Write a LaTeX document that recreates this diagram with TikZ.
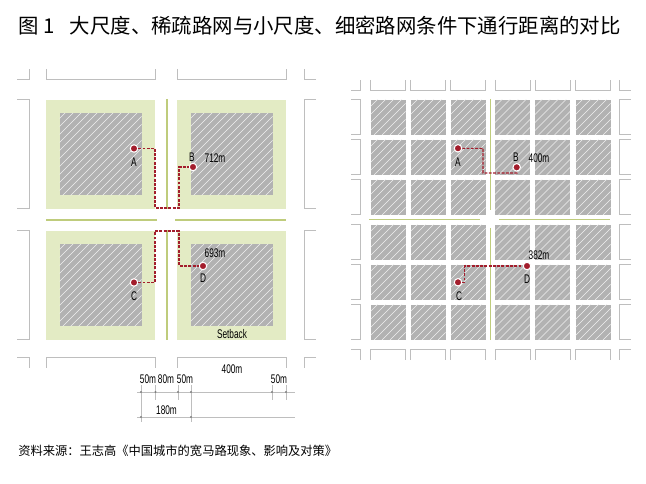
\documentclass[tikz,border=0pt]{standalone}
\usepackage{fontspec}
\setmainfont{Liberation Sans}
\newfontfamily\cjk{Noto Sans CJK SC}
\usepackage{xcolor}
\definecolor{cSetback}{HTML}{E3EBC4}
\definecolor{cPlot}{HTML}{B2B2B2}
\definecolor{cRoad}{HTML}{BFCC7C}
\definecolor{cRoute}{HTML}{A31D2C}
\definecolor{cEdge}{HTML}{BEBEBE}

\begin{document}
\begin{tikzpicture}[x=0.75pt, y=-0.75pt,
  setback/.style={fill=cSetback, minimum size=81.75pt, inner sep=0pt},
  plot/.style={fill=cPlot, minimum size=61.5pt, inner sep=0pt,
    path picture={\foreach \i in {-126,-118,...,42} {
      \draw[white!80!cPlot, line width=0.4pt]
        ([xshift=\i*0.75pt]path picture bounding box.south) --
        ([xshift=\i*0.75pt+66pt, yshift=66pt]path picture bounding box.south);
    }}},
  small/.style={plot, minimum size=26.25pt},
  edge/.style={draw=cEdge, line width=0.75pt},
  road/.style={draw=cRoad, line width=0.9pt},
  route/.style={draw=cRoute, line width=0.8pt, dash pattern=on 2.2pt off 1pt},
  spot/.style={circle, fill=cRoute, draw=white, line width=0.8pt, minimum size=5.6pt, inner sep=0pt},
  tag/.style={font=\fontsize{9.4}{11}\selectfont, xscale=0.66, inner sep=0pt},
  dim/.style={draw=cEdge, line width=0.6pt},
  tick/.style={circle, fill=gray, minimum size=1.8pt, inner sep=0pt}]
  \useasboundingbox (0,0) rectangle (646,484);

  % title and source
  \node[anchor=west, inner sep=0pt, font=\cjk\fontsize{15.3}{18}\selectfont] (title) at (18,26)
     {图 1\hspace{0.75em}大尺度、稀疏路网与小尺度、细密路网条件下通行距离的对比};
  \node[anchor=west, inner sep=0pt, font=\cjk\fontsize{9.2}{11}\selectfont] (source) at (18,451)
     {资料来源\char"FF1A 王志高《中国城市的宽马路现象、影响及对策》};

  % left plan: setbacks with plots
  \node[setback] (sa) at (100.5,154.5) {};
  \node[setback] (sb) at (231.5,154.5) {};
  \node[setback] (sc) at (100.5,285.5) {};
  \node[setback] (sd) at (231.5,285.5) {};
  \node[plot] (pa) at (sa) {};
  \node[plot] (pb) at (sb) {};
  \node[plot] (pc) at (sc) {};
  \node[plot] (pd) at (sd) {};

  % left plan: neighbouring blocks
  \foreach \xa/\xb in {46/155,177/286} {
    \draw[edge] (\xa,69) |- (\xb,80) -- (\xb,69);
    \draw[edge] (\xa,368) |- (\xb,358) -- (\xb,368);
  }
  \foreach \ya/\yb in {100/209,231/340} {
    \draw[edge] (17,\ya) -| (29,\yb) -- (17,\yb);
    \draw[edge] (316,\ya) -| (304.5,\yb) -- (316,\yb);
  }
  \draw[edge] (17,80) -| (29,69);
  \draw[edge] (316,80) -| (304.5,69);
  \draw[edge] (17,358) -| (29,368);
  \draw[edge] (316,358) -| (304.5,368);

  % left plan: road centre lines
  \draw[road] (167,99) -- (167,209);
  \draw[road] (167,230) -- (167,340);
  \draw[road] (46,220) -- (157,220);
  \draw[road] (175,220) -- (286,220);

  % left plan: routes
  \node[spot] (a) at (134,148.5) {};
  \node[spot] (b) at (193,167) {};
  \node[spot] (c) at (134,282.5) {};
  \node[spot] (d) at (203,266) {};
  \coordinate (ab1) at (155,208);
  \coordinate (ab2) at (179,208);
  \coordinate (cd1) at (155,231);
  \coordinate (cd2) at (179,231);
  \draw[route] (a) -| (ab1) -- (ab2) |- (b);
  \draw[route] (c) -| (cd1) -- (cd2) |- (d);

  \node[tag] (la) at (134,162) {A};
  \node[tag] (lb) at (192,157) {B};
  \node[tag] (lc) at (134,296) {C};
  \node[tag] (ld) at (203,278) {D};
  \node[tag] (len1) at (215,158) {712m};
  \node[tag] (len2) at (215,253) {693m};
  \node[tag] (set) at (232,334) {Setback};

  % left plan: dimensions
  \coordinate (d1) at (137,392);
  \coordinate (d2) at (295,392);
  \coordinate (d3) at (137,417);
  \coordinate (d4) at (295,417);
  \draw[dim] (d1) -- (d2);
  \draw[dim] (d3) -- (d4);
  \foreach \x in {155.5,178,272,286} {
    \draw[dim] (\x,385) -- (\x,400);
    \node[tick] at (\x,392) {};
  }
  \foreach \x in {141,191} {
    \draw[dim] (\x,385) -- (\x,422);
    \node[tick] at (\x,392) {};
    \node[tick] at (\x,417) {};
  }
  \node[tag] (w1) at (148,379) {50m};
  \node[tag] (w2) at (166,379) {80m};
  \node[tag] (w3) at (185,379) {50m};
  \node[tag] (w4) at (232,369) {400m};
  \node[tag] (w5) at (279,379) {50m};
  \node[tag] (w6) at (166.5,410) {180m};

  % right plan: grid of plots
  \foreach \x in {388,428,468,512.5,552.5,593} {
    \foreach \y in {117.5,157.5,197.5,242.5,282.5,322.5} {
      \node[small] at (\x,\y) {};
    }
    \draw[edge] (\x-17.5,80) |- (\x+17.5,90.5) -- (\x+17.5,80);
    \draw[edge] (\x-17.5,360) |- (\x+17.5,350) -- (\x+17.5,360);
  }
  \foreach \y in {117.5,157.5,197.5,242.5,282.5,322.5} {
    \draw[edge] (351,\y-17.5) -| (360.5,\y+17.5) -- (351,\y+17.5);
    \draw[edge] (630.5,\y-17.5) -| (619.5,\y+17.5) -- (630.5,\y+17.5);
  }
  \draw[edge] (351,90.5) -| (360.5,80);
  \draw[edge] (630.5,90.5) -| (619.5,80);
  \draw[edge] (351,350) -| (360.5,360);
  \draw[edge] (630.5,350) -| (619.5,360);

  % right plan: road centre lines
  \draw[road] (490.3,99) -- (490.3,210);
  \draw[road] (490.3,228) -- (490.3,340);
  \draw[road] (369,219.7) -- (480,219.7);
  \draw[road] (499,219.7) -- (610,219.7);

  % right plan: routes
  \node[spot] (ra) at (458,148.3) {};
  \node[spot] (rb) at (516.7,167.3) {};
  \node[spot] (rc) at (458,282.3) {};
  \node[spot] (rd) at (527,266) {};
  \coordinate (rab1) at (483,173);
  \coordinate (rab2) at (517,173);
  \coordinate (rcd1) at (464.7,266);
  \draw[route] (ra) -| (rab1) -- (rab2) -- (rb);
  \draw[route] (rc) -| (rcd1) -- (rd);

  \node[tag] (rla) at (458,162) {A};
  \node[tag] (rlb) at (516,157) {B};
  \node[tag] (rlc) at (459,296) {C};
  \node[tag] (rld) at (527,279) {D};
  \node[tag] (rlen1) at (539,158) {400m};
  \node[tag] (rlen2) at (539,255) {382m};
\end{tikzpicture}
\end{document}
